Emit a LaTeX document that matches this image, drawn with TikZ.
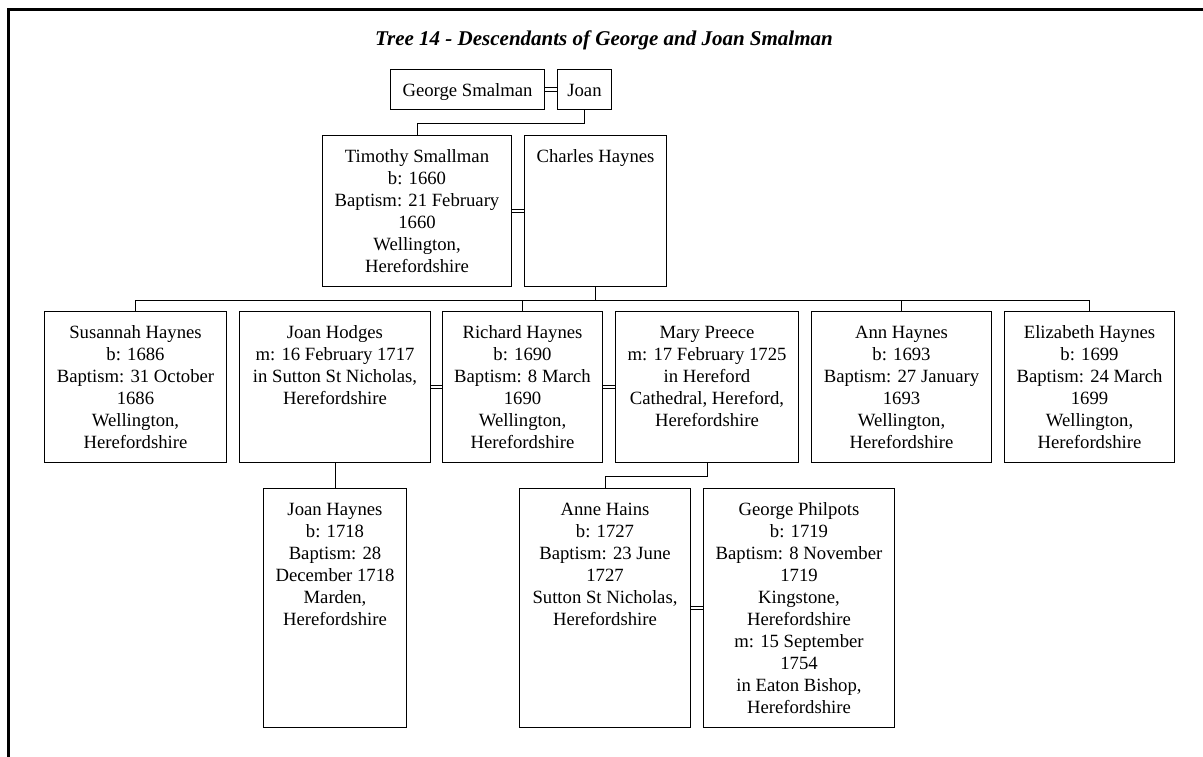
\documentclass[tikz,border=0pt]{standalone}
\usepackage{fontspec}
\setmainfont{Liberation Serif}
\usetikzlibrary{calc}

% a person card: fixed width and height, text centred and hung from the top
\newcommand\famcard[3]{\parbox[t][#2][t]{#1}{\centering\rule{0pt}{27pt}#3}}

\tikzset{
  person/.style={draw, line width=1pt, inner sep=0pt, anchor=north west,
    font=\fontsize{18.7}{22}\selectfont},
  link/.style={line width=0.9pt},
  marriage/.style={double, double distance=2.8pt, line width=0.8pt},
  frameline/.style={line width=3.5pt},
}

\begin{document}
\begin{tikzpicture}[x=1pt, y=-1pt]
\useasboundingbox (0,0) rectangle (1203,756);

% page frame
\draw[frameline] (8.7,760) |- (1210,9.5);

% heading
\node[font=\fontsize{21}{24}\selectfont\bfseries\itshape, anchor=base] (title) at (604,45)
  {Tree 14 - Descendants of George and Joan Smalman};

% generation 1
\node[person] (gsm) at (390,69) {\famcard{154pt}{40pt}{George Smalman}};
\node[person] (joan) at (557,69) {\famcard{54pt}{40pt}{Joan}};

% generation 2
\node[person] (tim) at (322,135) {\famcard{189pt}{151pt}{Timothy Smallman\\b: 1660\\Baptism: 21 February\\1660\\Wellington,\\Herefordshire}};
\node[person] (cha) at (524,135) {\famcard{142pt}{151pt}{Charles Haynes}};

% generation 3
\node[person] (sus) at (44,311) {\famcard{182pt}{151pt}{Susannah Haynes\\b: 1686\\Baptism: 31 October\\1686\\Wellington,\\Herefordshire}};
\node[person] (jhod) at (239,311) {\famcard{191pt}{151pt}{Joan Hodges\\m: 16 February 1717\\in Sutton St Nicholas,\\Herefordshire}};
\node[person] (ric) at (442,311) {\famcard{160pt}{151pt}{Richard Haynes\\b: 1690\\Baptism: 8 March\\1690\\Wellington,\\Herefordshire}};
\node[person] (mpr) at (615,311) {\famcard{183pt}{151pt}{Mary Preece\\m: 17 February 1725\\in Hereford\\Cathedral, Hereford,\\Herefordshire}};
\node[person] (ann) at (811,311) {\famcard{180pt}{151pt}{Ann Haynes\\b: 1693\\Baptism: 27 January\\1693\\Wellington,\\Herefordshire}};
\node[person] (eli) at (1004,311) {\famcard{170pt}{151pt}{Elizabeth Haynes\\b: 1699\\Baptism: 24 March\\1699\\Wellington,\\Herefordshire}};

% generation 4
\node[person] (jhay) at (263,488) {\famcard{143pt}{239pt}{Joan Haynes\\b: 1718\\Baptism: 28\\December 1718\\Marden,\\Herefordshire}};
\node[person] (anne) at (519,488) {\famcard{171pt}{239pt}{Anne Hains\\b: 1727\\Baptism: 23 June\\1727\\Sutton St Nicholas,\\Herefordshire}};
\node[person] (gph) at (703,488) {\famcard{191pt}{239pt}{George Philpots\\b: 1719\\Baptism: 8 November\\1719\\Kingstone,\\Herefordshire\\m: 15 September\\1754\\in Eaton Bishop,\\Herefordshire}};

% marriages
\draw[marriage] (gsm.east) -- (joan.west);
\draw[marriage] (tim.east) -- (cha.west);
\draw[marriage] (jhod.east) -- (ric.west);
\draw[marriage] (ric.east) -- (mpr.west);
\draw[marriage] (anne.east) -- (gph.west);

% descent lines
\draw[link] (joan.south) -- ++(0,13) -| (tim.north);
\foreach \kid in {sus, ric, ann, eli}
  \draw[link] (cha.south) -- ++(0,13) -| (\kid.north);
\draw[link] (jhod.south) -- (jhay.north);
\draw[link] (mpr.south) -- ++(0,13) -| (anne.north);
\end{tikzpicture}
\end{document}
